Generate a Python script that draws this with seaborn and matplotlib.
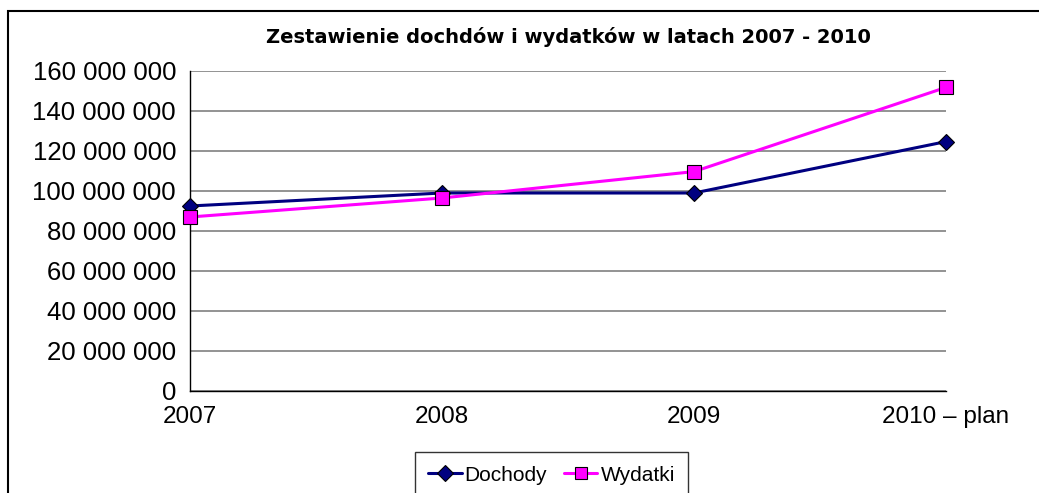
import numpy as np
import pandas as pd
import seaborn as sns
import matplotlib.pyplot as plt
from matplotlib.patches import Rectangle
from matplotlib.ticker import FuncFormatter, MultipleLocator

years = ['2007', '2008', '2009', '2010 – plan']
dochody = [92500000, 99000000, 99000000, 124700000]
wydatki = [87000000, 96500000, 109700000, 151800000]
series_names = ['Dochody', 'Wydatki']
title = 'Zestawienie dochdów i wydatków w latach 2007 - 2010'


def fmt_space(v, pos):
    return '{:,.0f}'.format(v).replace(',', ' ')


df = pd.DataFrame({
    'rok': years * 2,
    'kwota': dochody + wydatki,
    'seria': [series_names[0]] * len(years) + [series_names[1]] * len(years),
})

sns.set_style('white')
plt.rcParams['font.family'] = ['Liberation Sans', 'DejaVu Sans']
plt.rcParams['text.color'] = 'black'

fig = plt.figure(figsize=(10.39, 4.93), dpi=100)
ax = fig.add_axes([190 / 1039, 1 - 391 / 493, (946 - 190) / 1039, (391 - 71) / 493])

colors = {'Dochody': '#000080', 'Wydatki': '#FF00FF'}
sns.lineplot(data=df, x='rok', y='kwota', hue='seria', style='seria',
             markers={'Dochody': 'D', 'Wydatki': 's'}, dashes=False,
             palette=colors, lw=2.2, markersize=10, markeredgecolor='black',
             markeredgewidth=0.8, clip_on=False, ax=ax, zorder=3)
# diamonds look bigger than squares at the same size
ax.lines[0].set_markersize(8)

ax.set_xlim(0, 3)
ax.set_ylim(0, 160000000)
ax.yaxis.set_major_locator(MultipleLocator(20000000))
ax.yaxis.set_major_formatter(FuncFormatter(fmt_space))
ax.grid(axis='y', color='#808080', lw=1.2)
ax.set_axisbelow(True)
ax.set_xlabel('')
ax.set_ylabel('')
for s in ['top', 'right']:
    ax.spines[s].set_visible(False)
for s in ['left', 'bottom']:
    ax.spines[s].set_color('black')
    ax.spines[s].set_linewidth(1)
ax.tick_params(axis='x', direction='out', length=8, width=1, color='black',
               labelsize=17.5, labelcolor='black', pad=3)
ax.tick_params(axis='y', direction='inout', length=12, width=1, color='black',
               labelsize=18.5, labelcolor='black', pad=4)

ax.set_title(title, fontsize=14, fontweight='bold', family='DejaVu Sans',
             color='black', pad=20)

handles, labels = ax.get_legend_handles_labels()
handles[0].set_markersize(8)
handles[1].set_markersize(9)
leg = ax.legend(handles, labels, loc='upper center',
                bbox_to_anchor=(551.5 / 1039, 1 - 452 / 493),
                bbox_transform=fig.transFigure, ncol=2, frameon=True, fancybox=False,
                edgecolor='black', fontsize=15, handlelength=1.6, handletextpad=0.15,
                columnspacing=0.8, borderpad=0.65, borderaxespad=0)
leg.get_frame().set_linewidth(1)
for t in leg.get_texts():
    t.set_color('black')

fig.add_artist(Rectangle((8 / 1039, -0.2), 1.2, 1.2 - 11 / 493, fill=False,
                         lw=1.5, edgecolor='black', transform=fig.transFigure,
                         clip_on=False))

fig.savefig('out.png', dpi=100)
